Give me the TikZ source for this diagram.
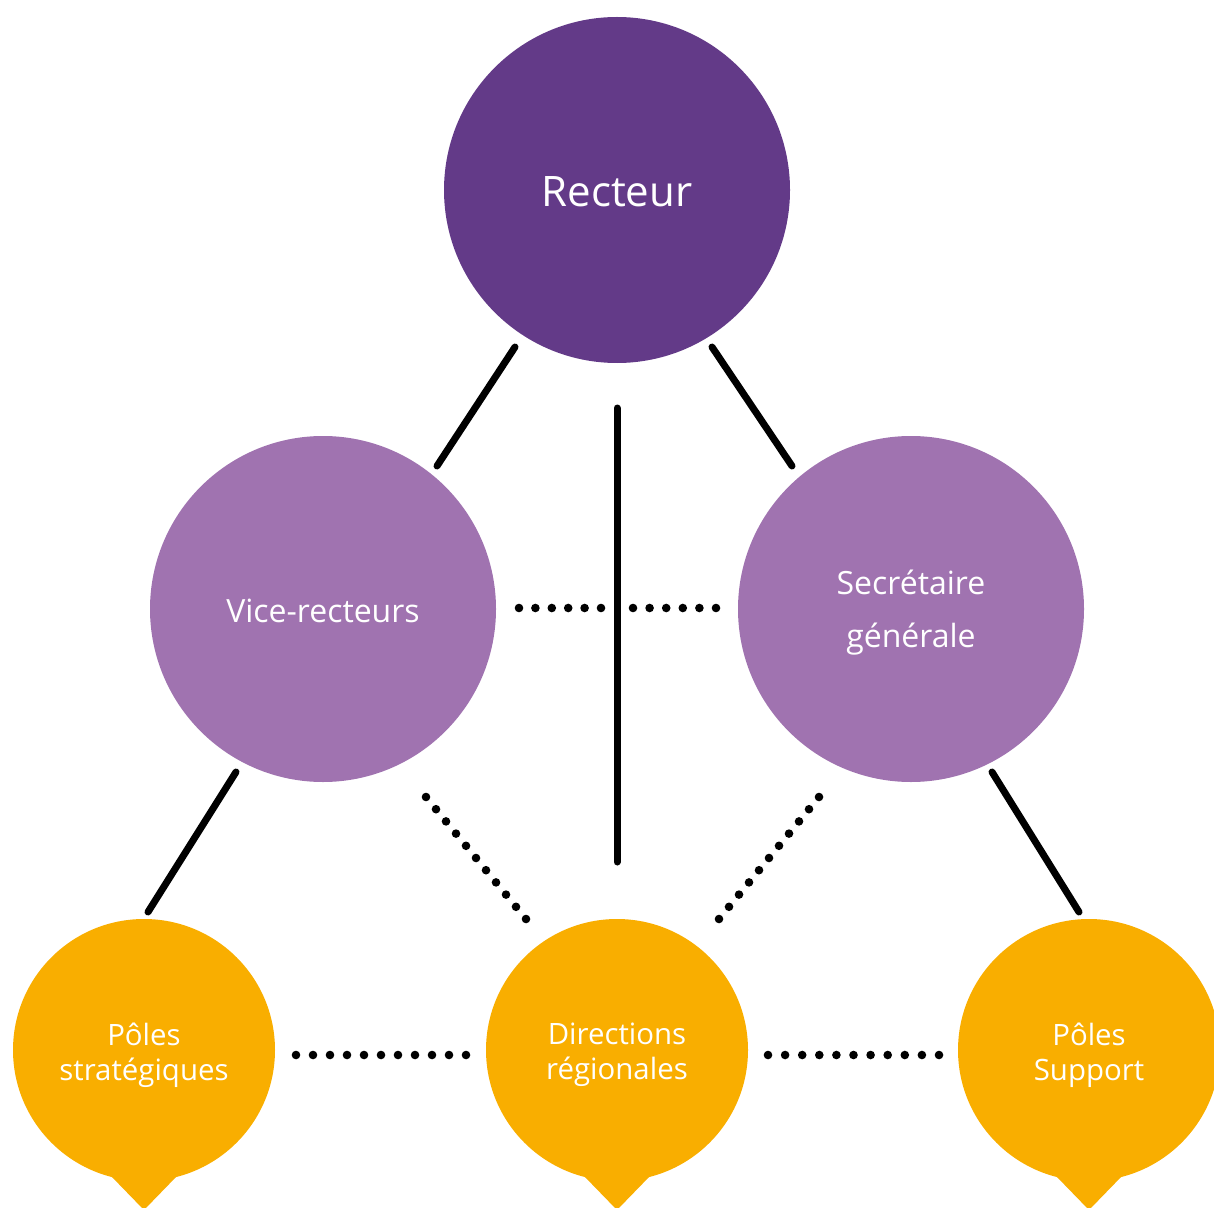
\documentclass[tikz,border=0pt]{standalone}
\usepackage{fontspec}
\setmainfont{Open Sans}
\usetikzlibrary{calc}
\definecolor{dpurple}{HTML}{633A88}
\definecolor{lpurple}{HTML}{A073B0}
\definecolor{gold}{HTML}{F9AE00}
\tikzset{
  big/.style={circle,inner sep=0pt,minimum size=173pt},
  small/.style={circle,inner sep=0pt,minimum size=131pt,fill=gold},
  label/.style={text=white,align=center},
  smalltext/.style={label,font=\fontsize{14.7}{17.5}\selectfont},
  solidline/.style={line width=3.5pt,line cap=round},
}
\newcommand{\dotrow}[3]{\foreach \i in {0,...,#3}{\fill ($(#1)!\i/#3!(#2)$) circle (4.3);}}
\begin{document}
\begin{tikzpicture}[x=0.5pt,y=-0.5pt]
\useasboundingbox (0,0) rectangle (1214,1208);
% pointers
\foreach \cx in {144,617,1089}{\fill[gold] (\cx-33,1176) -- (\cx+33,1176) -- (\cx,1210) -- cycle;}
\node[big,fill=dpurple] (rec) at (617,190) {};
\node[big,fill=lpurple] (vice) at (323,609) {};
\node[big,fill=lpurple] (sec) at (911,609) {};
\node[small] (pstrat) at (144,1050) {};
\node[small] (dir) at (617,1050) {};
\node[small] (psup) at (1089,1050) {};
\node[label,font=\fontsize{21}{24}\selectfont] (trec) at ([yshift=-1pt]rec.center) {Recteur};
\node[label,font=\fontsize{16}{18}\selectfont] (tvice) at ([yshift=-1pt]vice.center) {Vice-recteurs};
\node[label,font=\fontsize{16}{26.5}\selectfont] (tsec) at ([yshift=-2pt]sec.center) {Secrétaire\\générale};
\node[smalltext] (tpstrat) at ([yshift=-2.5pt]pstrat.center) {Pôles\\stratégiques};
\node[smalltext] (tdir) at ([yshift=-2.5pt]dir.center) {Directions\\régionales};
\node[smalltext] (tpsup) at ([yshift=-2.5pt]psup.center) {Pôles\\Support};
% solid connector end points
\coordinate (r1) at (515,347); \coordinate (v1) at (437,466);
\coordinate (r2) at (712,347); \coordinate (s1) at (792,466);
\coordinate (r3) at (617,408); \coordinate (d1) at (617,862);
\coordinate (v2) at (236,772); \coordinate (p1) at (148,912);
\coordinate (s2) at (992,772); \coordinate (p2) at (1079,912);
\draw[solidline] (r1) -- (v1);
\draw[solidline] (r2) -- (s1);
\draw[solidline] (r3) -- (d1);
\draw[solidline] (v2) -- (p1);
\draw[solidline] (s2) -- (p2);
% dotted
\coordinate (h1) at (519,608); \coordinate (h2) at (601,608);
\coordinate (h3) at (633,608); \coordinate (h4) at (716,608);
\coordinate (b1) at (296,1055); \coordinate (b2) at (466,1055);
\coordinate (b3) at (768,1055); \coordinate (b4) at (939,1055);
\coordinate (g1) at (426,797); \coordinate (g2) at (526,919);
\coordinate (g3) at (819,797); \coordinate (g4) at (719,919);
\dotrow{h1}{h2}{5}
\dotrow{h3}{h4}{5}
\dotrow{b1}{b2}{10}
\dotrow{b3}{b4}{10}
\dotrow{g1}{g2}{10}
\dotrow{g3}{g4}{10}
\end{tikzpicture}
\end{document}
